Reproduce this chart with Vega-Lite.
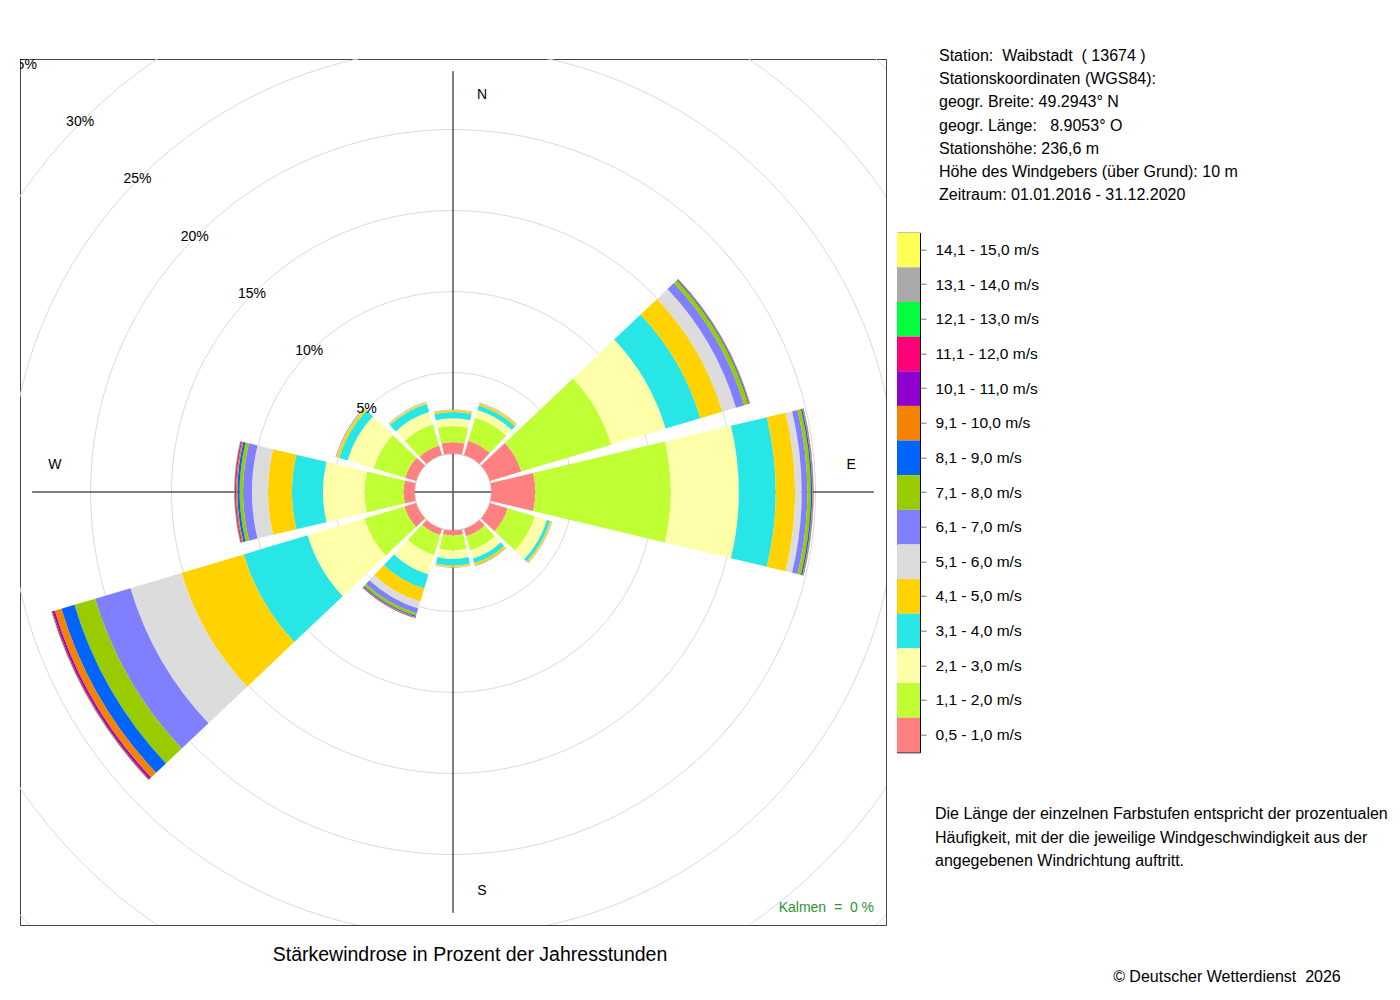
{
  "$schema": "https://vega.github.io/schema/vega-lite/v6.json",
  "background": "white",
  "padding": {"left": 19, "top": 48, "right": 0, "bottom": 0},
  "config": {
    "font": "Liberation Sans",
    "view": {"stroke": null},
    "text": {"font": "Liberation Sans", "color": "black"}
  },
  "title": {
    "text": "© Deutscher Wetterdienst \u00a02026",
    "orient": "bottom",
    "anchor": "end",
    "fontSize": 16,
    "fontWeight": "normal",
    "font": "Liberation Sans",
    "color": "black",
    "offset": 4,
    "dx": -47
  },
  "bounds": "flush",
  "spacing": 11,
  "hconcat": [
    {
      "width": 866,
      "height": 866,
      "view": {"stroke": "#444444", "strokeWidth": 1},
      "title": {
        "text": "Stärkewindrose in Prozent der Jahresstunden",
        "orient": "bottom",
        "fontSize": 19.5,
        "fontWeight": "normal",
        "font": "Liberation Sans",
        "color": "black",
        "baseline": "top",
        "offset": 21,
        "dx": 17
      },
      "layer": [
        {
          "data": {"values": [{"pct": 5}, {"pct": 10}, {"pct": 15}, {"pct": 20}, {"pct": 25}, {"pct": 30}, {"pct": 35}]},
          "mark": {"type": "arc", "fillOpacity": 0, "stroke": "#dadada", "strokeWidth": 1, "clip": true},
          "encoding": {
            "theta": {"datum": 0, "scale": {"type": "linear", "domain": [0, 360], "range": [0, 6.283185307179586]}},
            "theta2": {"datum": 361},
            "radius": {"field": "pct", "type": "quantitative", "stack": null, "scale": {"type": "linear", "domain": [0, 35], "range": [38.5, 605.5], "zero": false}}
          }
        },
        {
          "data": {"values": [{"ang": 0}, {"ang": 90}, {"ang": 180}, {"ang": 270}]},
          "mark": {"type": "arc", "fillOpacity": 0, "stroke": "#555555", "strokeWidth": 1},
          "encoding": {
            "theta": {"field": "ang", "type": "quantitative", "stack": null},
            "theta2": {"field": "ang"},
            "radius": {"datum": 23.6},
            "radius2": {"value": 0}
          }
        },
        {
          "data": {"values": [
            {"dir": 0, "cls": 1, "pct": 0.70}, {"dir": 0, "cls": 2, "pct": 1.00}, {"dir": 0, "cls": 3, "pct": 0.48}, {"dir": 0, "cls": 4, "pct": 0.38}, {"dir": 0, "cls": 5, "pct": 0.12}, {"dir": 0, "cls": 6, "pct": 0.02}, {"dir": 0, "cls": 7, "pct": 0.01},
            {"dir": 30, "cls": 1, "pct": 0.93}, {"dir": 30, "cls": 2, "pct": 1.49}, {"dir": 30, "cls": 3, "pct": 0.48}, {"dir": 30, "cls": 4, "pct": 0.30}, {"dir": 30, "cls": 5, "pct": 0.12}, {"dir": 30, "cls": 6, "pct": 0.03}, {"dir": 30, "cls": 7, "pct": 0.03}, {"dir": 30, "cls": 8, "pct": 0.01},
            {"dir": 60, "cls": 1, "pct": 2.03}, {"dir": 60, "cls": 2, "pct": 5.79}, {"dir": 60, "cls": 3, "pct": 3.50}, {"dir": 60, "cls": 4, "pct": 2.24}, {"dir": 60, "cls": 5, "pct": 1.41}, {"dir": 60, "cls": 6, "pct": 0.88}, {"dir": 60, "cls": 7, "pct": 0.54}, {"dir": 60, "cls": 8, "pct": 0.26}, {"dir": 60, "cls": 9, "pct": 0.06}, {"dir": 60, "cls": 10, "pct": 0.03}, {"dir": 60, "cls": 11, "pct": 0.01}, {"dir": 60, "cls": 12, "pct": 0.01},
            {"dir": 90, "cls": 1, "pct": 2.71}, {"dir": 90, "cls": 2, "pct": 8.36}, {"dir": 90, "cls": 3, "pct": 4.19}, {"dir": 90, "cls": 4, "pct": 2.28}, {"dir": 90, "cls": 5, "pct": 1.19}, {"dir": 90, "cls": 6, "pct": 0.41}, {"dir": 90, "cls": 7, "pct": 0.35}, {"dir": 90, "cls": 8, "pct": 0.21}, {"dir": 90, "cls": 9, "pct": 0.09}, {"dir": 90, "cls": 10, "pct": 0.05}, {"dir": 90, "cls": 11, "pct": 0.02}, {"dir": 90, "cls": 12, "pct": 0.01}, {"dir": 90, "cls": 13, "pct": 0.01},
            {"dir": 120, "cls": 1, "pct": 1.15}, {"dir": 120, "cls": 2, "pct": 1.74}, {"dir": 120, "cls": 3, "pct": 0.78}, {"dir": 120, "cls": 4, "pct": 0.20}, {"dir": 120, "cls": 5, "pct": 0.10}, {"dir": 120, "cls": 6, "pct": 0.02}, {"dir": 120, "cls": 7, "pct": 0.02}, {"dir": 120, "cls": 8, "pct": 0.01},
            {"dir": 150, "cls": 1, "pct": 0.48}, {"dir": 150, "cls": 2, "pct": 0.91}, {"dir": 150, "cls": 3, "pct": 0.52}, {"dir": 150, "cls": 4, "pct": 0.31}, {"dir": 150, "cls": 5, "pct": 0.13}, {"dir": 150, "cls": 6, "pct": 0.02}, {"dir": 150, "cls": 7, "pct": 0.02}, {"dir": 150, "cls": 8, "pct": 0.01},
            {"dir": 180, "cls": 1, "pct": 0.31}, {"dir": 180, "cls": 2, "pct": 0.92}, {"dir": 180, "cls": 3, "pct": 0.52}, {"dir": 180, "cls": 4, "pct": 0.41}, {"dir": 180, "cls": 5, "pct": 0.10}, {"dir": 180, "cls": 6, "pct": 0.02}, {"dir": 180, "cls": 7, "pct": 0.02}, {"dir": 180, "cls": 8, "pct": 0.01},
            {"dir": 210, "cls": 1, "pct": 0.40}, {"dir": 210, "cls": 2, "pct": 1.29}, {"dir": 210, "cls": 3, "pct": 1.24}, {"dir": 210, "cls": 4, "pct": 0.91}, {"dir": 210, "cls": 5, "pct": 0.86}, {"dir": 210, "cls": 6, "pct": 0.43}, {"dir": 210, "cls": 7, "pct": 0.32}, {"dir": 210, "cls": 8, "pct": 0.15}, {"dir": 210, "cls": 9, "pct": 0.08}, {"dir": 210, "cls": 10, "pct": 0.04}, {"dir": 210, "cls": 11, "pct": 0.02}, {"dir": 210, "cls": 12, "pct": 0.01},
            {"dir": 240, "cls": 1, "pct": 0.76}, {"dir": 240, "cls": 2, "pct": 2.57}, {"dir": 240, "cls": 3, "pct": 3.66}, {"dir": 240, "cls": 4, "pct": 4.12}, {"dir": 240, "cls": 5, "pct": 4.00}, {"dir": 240, "cls": 6, "pct": 3.29}, {"dir": 240, "cls": 7, "pct": 2.27}, {"dir": 240, "cls": 8, "pct": 1.34}, {"dir": 240, "cls": 9, "pct": 0.84}, {"dir": 240, "cls": 10, "pct": 0.43}, {"dir": 240, "cls": 11, "pct": 0.12}, {"dir": 240, "cls": 12, "pct": 0.07}, {"dir": 240, "cls": 13, "pct": 0.03}, {"dir": 240, "cls": 14, "pct": 0.01}, {"dir": 240, "cls": 15, "pct": 0.01},
            {"dir": 270, "cls": 1, "pct": 0.68}, {"dir": 270, "cls": 2, "pct": 2.40}, {"dir": 270, "cls": 3, "pct": 2.57}, {"dir": 270, "cls": 4, "pct": 1.91}, {"dir": 270, "cls": 5, "pct": 1.48}, {"dir": 270, "cls": 6, "pct": 0.99}, {"dir": 270, "cls": 7, "pct": 0.55}, {"dir": 270, "cls": 8, "pct": 0.21}, {"dir": 270, "cls": 9, "pct": 0.14}, {"dir": 270, "cls": 10, "pct": 0.09}, {"dir": 270, "cls": 11, "pct": 0.05}, {"dir": 270, "cls": 12, "pct": 0.04}, {"dir": 270, "cls": 13, "pct": 0.02}, {"dir": 270, "cls": 14, "pct": 0.01},
            {"dir": 300, "cls": 1, "pct": 0.71}, {"dir": 300, "cls": 2, "pct": 2.04}, {"dir": 300, "cls": 3, "pct": 1.67}, {"dir": 300, "cls": 4, "pct": 0.54}, {"dir": 300, "cls": 5, "pct": 0.16}, {"dir": 300, "cls": 6, "pct": 0.03}, {"dir": 300, "cls": 7, "pct": 0.04}, {"dir": 300, "cls": 8, "pct": 0.01},
            {"dir": 330, "cls": 1, "pct": 0.62}, {"dir": 330, "cls": 2, "pct": 1.35}, {"dir": 330, "cls": 3, "pct": 0.80}, {"dir": 330, "cls": 4, "pct": 0.52}, {"dir": 330, "cls": 5, "pct": 0.09}, {"dir": 330, "cls": 6, "pct": 0.02}, {"dir": 330, "cls": 7, "pct": 0.02}, {"dir": 330, "cls": 8, "pct": 0.01}
          ]},
          "transform": [
            {"stack": "pct", "groupby": ["dir"], "sort": [{"field": "cls", "order": "ascending"}], "as": ["p0", "p1"]},
            {"calculate": "datum.dir - 13.4", "as": "a0"},
            {"calculate": "datum.dir + 13.4", "as": "a1"}
          ],
          "mark": {"type": "arc"},
          "encoding": {
            "theta": {"field": "a0", "type": "quantitative", "stack": null},
            "theta2": {"field": "a1"},
            "radius": {"field": "p1", "type": "quantitative", "stack": null},
            "radius2": {"field": "p0"},
            "color": {
              "field": "cls",
              "type": "ordinal",
              "scale": {
                "domain": [1, 2, 3, 4, 5, 6, 7, 8, 9, 10, 11, 12, 13, 14, 15],
                "range": ["#ff8080", "#bfff33", "#ffffaa", "#29e6e6", "#ffd200", "#dcdcdc", "#8080ff", "#99cc00", "#0064ff", "#f58200", "#8f00d0", "#ff0078", "#00ff3c", "#aaaaaa", "#ffff55"]
              },
              "legend": null
            }
          }
        },
        {
          "data": {"values": [
            {"pct": 5, "lab": "5%"}, {"pct": 10, "lab": "10%"}, {"pct": 15, "lab": "15%"}, {"pct": 20, "lab": "20%"},
            {"pct": 25, "lab": "25%"}, {"pct": 30, "lab": "30%"}, {"pct": 35, "lab": "35%"}
          ]},
          "mark": {"type": "text", "fontSize": 14, "align": "center", "baseline": "middle", "clip": true, "dx": -2, "dy": 1},
          "encoding": {
            "theta": {"datum": 315},
            "radius": {"field": "pct", "type": "quantitative", "stack": null},
            "text": {"field": "lab"}
          }
        },
        {
          "data": {"values": [{"lab": "N", "ang": 0}, {"lab": "S", "ang": 180}]},
          "mark": {"type": "text", "fontSize": 14, "align": "center", "baseline": "middle", "dx": 29, "dy": 1},
          "encoding": {
            "theta": {"field": "ang", "type": "quantitative", "stack": null},
            "radius": {"datum": 22.2},
            "text": {"field": "lab"}
          }
        },
        {
          "data": {"values": [{"lab": "E", "ang": 90}, {"lab": "W", "ang": 270}]},
          "mark": {"type": "text", "fontSize": 14, "align": "center", "baseline": "middle", "dy": -27},
          "encoding": {
            "theta": {"field": "ang", "type": "quantitative", "stack": null},
            "radius": {"datum": 22.2},
            "text": {"field": "lab"}
          }
        },
        {
          "data": {"values": [{"t": "Kalmen \u00a0= \u00a00 %"}]},
          "mark": {"type": "text", "fontSize": 14, "align": "right", "baseline": "middle", "color": "#2e962e", "dx": -12, "dy": -17},
          "encoding": {
            "x": {"value": "width"},
            "y": {"value": "height"},
            "text": {"field": "t"}
          }
        }
      ]
    },
    {
      "bounds": "flush",
      "spacing": 34.7,
      "vconcat": [
        {
          "width": 443,
          "height": 139,
          "data": {"values": [
            {"i": 1, "t": "Station: \u00a0Waibstadt \u00a0( 13674 )"},
            {"i": 2, "t": "Stationskoordinaten (WGS84):"},
            {"i": 3, "t": "geogr. Breite: 49.2943° N"},
            {"i": 4, "t": "geogr. Länge: \u00a0 8.9053° O"},
            {"i": 5, "t": "Stationshöhe: 236,6 m"},
            {"i": 6, "t": "Höhe des Windgebers (über Grund): 10 m"},
            {"i": 7, "t": "Zeitraum: 01.01.2016 - 31.12.2020"}
          ]},
          "mark": {"type": "text", "align": "left", "baseline": "middle", "fontSize": 16, "dx": 42, "dy": -3},
          "encoding": {
            "x": {"value": 0},
            "y": {"field": "i", "type": "ordinal", "scale": {"type": "point", "padding": 0}, "axis": null},
            "text": {"field": "t"}
          }
        },
        {
          "bounds": "flush",
          "spacing": 61.7,
          "vconcat": [
            {
              "width": 23,
              "height": 519.6,
              "view": {"stroke": "black", "strokeWidth": 1},
              "data": {"values": [
                {"cls": 15, "lab": "14,1 - 15,0 m/s"},
                {"cls": 14, "lab": "13,1 - 14,0 m/s"},
                {"cls": 13, "lab": "12,1 - 13,0 m/s"},
                {"cls": 12, "lab": "11,1 - 12,0 m/s"},
                {"cls": 11, "lab": "10,1 - 11,0 m/s"},
                {"cls": 10, "lab": "9,1 - 10,0 m/s"},
                {"cls": 9, "lab": "8,1 - 9,0 m/s"},
                {"cls": 8, "lab": "7,1 - 8,0 m/s"},
                {"cls": 7, "lab": "6,1 - 7,0 m/s"},
                {"cls": 6, "lab": "5,1 - 6,0 m/s"},
                {"cls": 5, "lab": "4,1 - 5,0 m/s"},
                {"cls": 4, "lab": "3,1 - 4,0 m/s"},
                {"cls": 3, "lab": "2,1 - 3,0 m/s"},
                {"cls": 2, "lab": "1,1 - 2,0 m/s"},
                {"cls": 1, "lab": "0,5 - 1,0 m/s"}
              ]},
              "mark": {"type": "rect"},
              "encoding": {
                "x": {"datum": 0, "scale": {"domain": [0, 1]}, "axis": null},
                "x2": {"datum": 1},
                "y": {
                  "field": "lab",
                  "type": "ordinal",
                  "sort": null,
                  "scale": {"paddingInner": 0, "paddingOuter": 0},
                  "axis": {
                    "orient": "right",
                    "title": null,
                    "domain": false,
                    "ticks": true,
                    "tickSize": 6,
                    "tickColor": "#777777",
                    "labelFontSize": 15.5,
                    "labelFont": "Liberation Sans",
                    "labelColor": "black",
                    "labelPadding": 9
                  }
                },
                "color": {
                  "field": "cls",
                  "type": "ordinal",
                  "scale": {
                    "domain": [1, 2, 3, 4, 5, 6, 7, 8, 9, 10, 11, 12, 13, 14, 15],
                    "range": ["#ff8080", "#bfff33", "#ffffaa", "#29e6e6", "#ffd200", "#dcdcdc", "#8080ff", "#99cc00", "#0064ff", "#f58200", "#8f00d0", "#ff0078", "#00ff3c", "#aaaaaa", "#ffff55"]
                  },
                  "legend": null
                }
              }
            },
            {
              "width": 443,
              "height": 46.34,
              "data": {"values": [
                {"i": 1, "t": "Die Länge der einzelnen Farbstufen entspricht der prozentualen"},
                {"i": 2, "t": "Häufigkeit, mit der die jeweilige Windgeschwindigkeit aus der"},
                {"i": 3, "t": "angegebenen Windrichtung auftritt."}
              ]},
              "mark": {"type": "text", "align": "left", "baseline": "middle", "fontSize": 16, "dx": 38},
              "encoding": {
                "x": {"value": 0},
                "y": {"field": "i", "type": "ordinal", "scale": {"type": "point", "padding": 0}, "axis": null},
                "text": {"field": "t"}
              }
            }
          ]
        }
      ]
    }
  ]
}
